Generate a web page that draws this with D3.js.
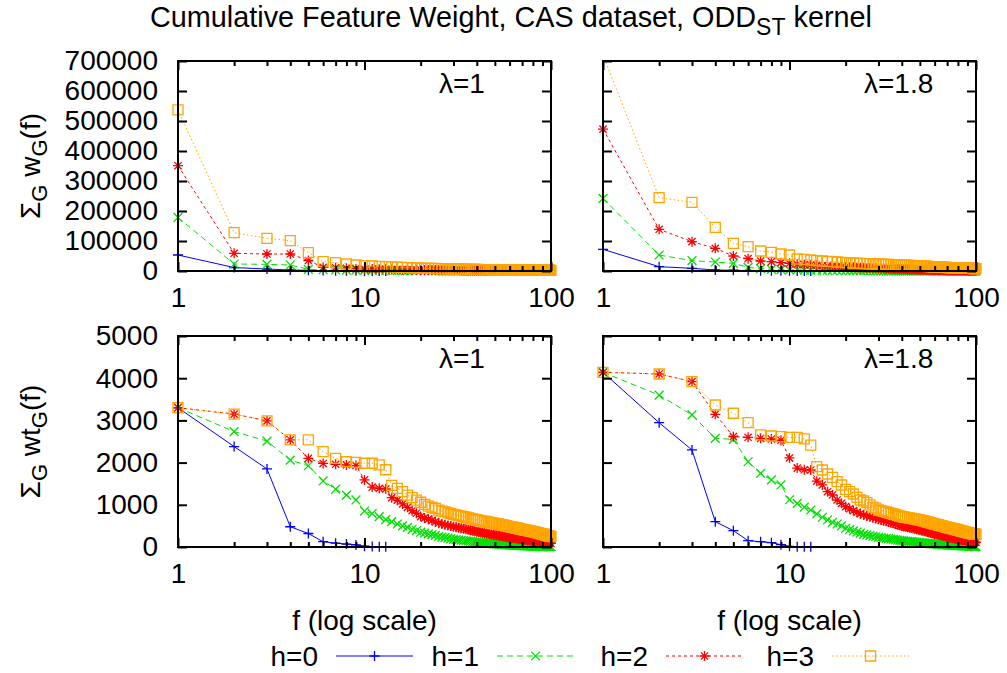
<!DOCTYPE html>
<html><head><meta charset="utf-8">
<script src="https://cdn.jsdelivr.net/npm/d3@7"></script>
<style>
body{margin:0;background:#fff}
svg text{font-family:"Liberation Sans",Arial,Helvetica,sans-serif;fill:#000}
</style>
</head><body><svg id="c" width="1007" height="673"></svg>
<script>
// ---------- DATA ----------
const seriesNames = ["h=0", "h=1", "h=2", "h=3"];
const lambdaLabels = ["λ=1", "λ=1.8"];
const xMajorTicks = [1, 10, 100];
const xMinorTicks = [2, 3, 4, 5, 6, 7, 8, 9, 20, 30, 40, 50, 60, 70, 80, 90];
const yTicksW = [0, 100000, 200000, 300000, 400000, 500000, 600000, 700000];
const yTicksWt = [0, 1000, 2000, 3000, 4000, 5000];

// Σ_G w_G(f), λ=1
const wL1H0 = [53300, 11500, 6700, 3300, 2200, 1500, 1100, 800, 600, 400, 300, 200, 150];
const wL1H1 = [178500, 23300, 22200, 20000, 5500, 4200, 3600, 3100, 2700, 2300, 2100, 1900, 1700, 1550, 1400, 1300, 1200, 1100, 1000, 930,
  870, 810, 760, 710, 660, 620, 590, 560, 530, 500, 480, 460, 440, 420, 400, 385, 370, 355, 340, 325,
  312, 300, 290, 280, 270, 260, 250, 240, 230, 220, 212, 205, 198, 191, 184, 178, 172, 166, 160, 154,
  149, 144, 139, 134, 129, 125, 121, 117, 113, 109, 105, 102, 99, 96, 93, 90, 87, 84, 81, 78,
  76, 74, 72, 70, 68, 66, 64, 62, 60, 58, 57, 56, 55, 54, 53, 52, 51, 50, 49, 48];
const wL1H2 = [351000, 59000, 56700, 56700, 35000, 12200, 11000, 8900, 7800, 7000, 6400, 5900, 5500, 5100, 4800, 4500, 4250, 4000, 3800, 3600,
  3420, 3250, 3100, 2960, 2830, 2710, 2600, 2500, 2400, 2310, 2230, 2150, 2080, 2010, 1950, 1890, 1830, 1780, 1730, 1680,
  1630, 1590, 1550, 1510, 1470, 1430, 1400, 1370, 1340, 1310, 1280, 1250, 1220, 1200, 1170, 1150, 1120, 1100, 1080, 1060,
  1040, 1020, 1000, 985, 970, 955, 940, 925, 910, 895, 880, 866, 852, 838, 825, 812, 800, 788, 776, 764,
  752, 741, 730, 719, 708, 698, 688, 678, 668, 658, 649, 640, 631, 622, 613, 605, 597, 589, 581, 573];
const wL1H3 = [537000, 127700, 109000, 101000, 61000, 31000, 27700, 23300, 20000, 17800, 16700, 15500, 14400, 13500, 12700, 12000, 11400, 10800, 10300, 9800,
  9400, 9000, 8650, 8300, 8000, 7700, 7450, 7200, 6950, 6700, 6500, 6300, 6100, 5950, 5800, 5650, 5500, 5360, 5230, 5100,
  4980, 4870, 4760, 4660, 4560, 4470, 4380, 4300, 4220, 4140, 4060, 3990, 3920, 3850, 3790, 3730, 3670, 3610, 3560, 3510,
  3460, 3410, 3360, 3320, 3280, 3240, 3200, 3160, 3120, 3080, 3050, 3020, 2990, 2960, 2930, 2900, 2870, 2840, 2810, 2780,
  2760, 2740, 2720, 2700, 2680, 2660, 2640, 2620, 2600, 2580, 2560, 2540, 2520, 2500, 2480, 2460, 2440, 2420, 2400, 2380];

// Σ_G w_G(f), λ=1.8
const wL18H0 = [72200, 14400, 8900, 3300, 2500, 1500, 1100, 800, 600, 450, 350, 250, 200];
const wL18H1 = [242000, 53300, 34400, 30000, 25600, 12200, 7800, 5600, 4600, 3900, 3400, 3000, 2700, 2450, 2250, 2050, 1900, 1750, 1620, 1500,
  1400, 1310, 1230, 1150, 1080, 1020, 960, 910, 860, 815, 775, 740, 705, 672, 640, 612, 585, 560, 537, 515,
  495, 476, 458, 441, 425, 410, 396, 382, 369, 357, 345, 334, 323, 313, 303, 294, 285, 276, 268, 260,
  252, 245, 238, 231, 225, 219, 213, 207, 201, 196, 191, 186, 181, 176, 172, 168, 164, 160, 156, 152,
  148, 145, 142, 139, 136, 133, 130, 127, 124, 121, 118, 116, 114, 112, 110, 108, 106, 104, 102, 100];
const wL18H2 = [473000, 139000, 97800, 75500, 50000, 41100, 33300, 31100, 27800, 25600, 22200, 21100, 20000, 18800, 17700, 16700, 15800, 15000, 14200, 13500,
  12900, 12300, 11700, 11200, 10700, 10250, 9800, 9400, 9000, 8650, 8300, 8000, 7700, 7420, 7150, 6900, 6660, 6430, 6210, 6000,
  5800, 5620, 5440, 5270, 5110, 4960, 4820, 4680, 4550, 4420, 4300, 4190, 4080, 3980, 3880, 3790, 3700, 3610, 3530, 3450,
  3380, 3310, 3240, 3170, 3110, 3050, 2990, 2930, 2880, 2830, 2780, 2730, 2680, 2640, 2600, 2560, 2520, 2480, 2440, 2400,
  2370, 2340, 2310, 2280, 2250, 2220, 2190, 2160, 2130, 2100, 2080, 2060, 2040, 2020, 2000, 1980, 1960, 1940, 1920, 1900];
const wL18H3 = [720000, 244400, 229000, 145600, 92200, 81100, 66700, 62200, 56700, 53300, 40000, 38900, 36700, 34400, 33300, 32200, 31100, 30000, 28900, 27800,
  27000, 26400, 25800, 25300, 24800, 24400, 24000, 23600, 23300, 23000, 22600, 22200, 21900, 21600, 21300, 21000, 20700, 20400, 20100, 19800,
  19500, 19200, 18900, 18600, 18300, 18000, 17700, 17400, 17100, 16800, 16500, 16200, 15900, 15600, 15300, 15000, 14700, 14450, 14200, 13950,
  13700, 13450, 13200, 12950, 12700, 12500, 12300, 12100, 11900, 11700, 11500, 11300, 11100, 10950, 10800, 10650, 10500, 10350, 10200, 10050,
  9950, 9850, 9750, 9650, 9550, 9450, 9350, 9250, 9150, 9050, 8950, 8850, 8750, 8650, 8550, 8450, 8350, 8250, 8150, 8050];

// Σ_G wt_G(f), λ=1
const wtL1H0 = [3300, 2380, 1850, 480, 320, 125, 90, 70, 50, 18, 10, 6, 4];
const wtL1H1 = [3300, 2735, 2510, 2060, 1925, 1565, 1370, 1230, 1115, 850, 790, 720, 650, 600, 545, 500, 465, 420, 390, 350,
  330, 310, 292, 275, 250, 236, 222, 208, 195, 182, 175, 168, 160, 154, 148, 142, 136, 130, 124, 118,
  113, 108, 104, 100, 95, 91, 87, 82, 77, 72, 69, 67, 64, 62, 59, 57, 54, 52, 50, 47,
  45, 44, 42, 41, 39, 38, 36, 35, 33, 32, 31, 29, 28, 27, 25, 24, 22, 21, 18, 16,
  15, 14, 14, 13, 12, 12, 11, 11, 10, 10, 9, 9, 9, 8, 8, 8, 8, 8, 8, 8];
const wtL1H2 = [3300, 3150, 2990, 2540, 2100, 1980, 1960, 1945, 1930, 1590, 1420, 1390, 1375, 1170, 1110, 1020, 940, 860, 800, 720,
  690, 660, 630, 600, 565, 545, 528, 512, 496, 482, 470, 458, 446, 434, 422, 410, 398, 386, 374, 363,
  354, 345, 336, 327, 318, 310, 302, 295, 290, 284, 278, 272, 266, 260, 254, 249, 244, 239, 234, 229,
  224, 219, 214, 210, 205, 200, 196, 192, 187, 182, 179, 176, 172, 169, 166, 163, 160, 157, 153, 150,
  147, 144, 141, 138, 135, 132, 128, 125, 121, 118, 115, 112, 109, 106, 103, 100, 97, 94, 90, 87];
const wtL1H3 = [3300, 3150, 2990, 2540, 2540, 2260, 2100, 2020, 2005, 1985, 1985, 1945, 1830, 1460, 1390, 1310, 1230, 1170, 1110, 1060,
  1010, 970, 940, 915, 875, 850, 830, 808, 790, 772, 758, 745, 730, 718, 705, 692, 680, 668, 654, 640,
  632, 624, 615, 607, 598, 590, 582, 575, 568, 561, 553, 545, 537, 530, 522, 515, 507, 499, 490, 482,
  476, 470, 463, 457, 450, 444, 438, 432, 425, 419, 413, 408, 402, 397, 391, 386, 380, 374, 369, 363,
  357, 352, 346, 341, 335, 330, 324, 319, 313, 308, 302, 296, 289, 283, 276, 270, 264, 258, 251, 245];

// Σ_G wt_G(f), λ=1.8
const wtL18H0 = [4140, 2945, 2300, 600, 387, 150, 126, 103, 55, 16, 8, 5, 4];
const wtL18H1 = [4140, 3600, 3130, 2575, 2550, 2020, 1745, 1590, 1470, 1120, 1035, 945, 877, 785, 705, 640, 585, 545, 498, 442,
  410, 380, 355, 328, 300, 286, 272, 258, 243, 229, 220, 212, 204, 196, 188, 181, 173, 165, 158, 150,
  145, 140, 135, 130, 126, 121, 117, 112, 108, 103, 100, 96, 93, 90, 86, 83, 80, 77, 74, 71,
  69, 66, 64, 61, 59, 57, 55, 52, 50, 47, 46, 44, 43, 41, 40, 38, 37, 35, 34, 32,
  31, 30, 30, 29, 28, 27, 26, 25, 24, 24, 22, 21, 19, 18, 16, 14, 13, 11, 10, 8];
const wtL18H2 = [4140, 4100, 3920, 3145, 2615, 2600, 2575, 2560, 2530, 2110, 1870, 1830, 1825, 1560, 1470, 1310, 1232, 1114, 1035, 956,
  905, 861, 825, 790, 758, 735, 715, 693, 674, 656, 640, 624, 608, 592, 576, 561, 545, 529, 513, 498,
  488, 478, 469, 459, 450, 441, 431, 422, 412, 403, 393, 384, 374, 365, 355, 346, 336, 327, 317, 308,
  302, 296, 289, 283, 277, 271, 264, 258, 251, 245, 239, 233, 226, 220, 214, 207, 201, 195, 188, 182,
  179, 176, 173, 169, 166, 163, 160, 157, 153, 150, 146, 142, 138, 134, 130, 126, 122, 118, 114, 110];
const wtL18H3 = [4140, 4100, 3920, 3365, 3170, 2945, 2655, 2630, 2615, 2600, 2600, 2560, 2415, 1905, 1825, 1730, 1650, 1548, 1469, 1367,
  1311, 1256, 1177, 1114, 1090, 1051, 1000, 944, 920, 877, 862, 846, 830, 814, 798, 782, 766, 750, 735, 719,
  711, 703, 695, 687, 680, 672, 664, 656, 648, 640, 631, 622, 612, 603, 593, 584, 574, 564, 555, 545,
  537, 529, 521, 513, 505, 498, 490, 482, 474, 466, 460, 453, 447, 441, 434, 428, 422, 416, 409, 403,
  397, 390, 384, 378, 372, 365, 359, 353, 346, 340, 336, 332, 328, 324, 320, 316, 312, 308, 304, 300];

// ---------- STYLE / LAYOUT ----------
const styles = [
  {color: "#0000ff", dash: null, marker: "plus"},
  {color: "#00e000", dash: "6,4", marker: "cross"},
  {color: "#ff0000", dash: "3,3", marker: "star"},
  {color: "#ffa500", dash: "1.5,2.5", marker: "square"}
];
const FONT = 28;
const panels = [
  {x0: 178, x1: 551, y0: 61, y1: 271, yTicks: yTicksW, labels: true, lam: 0, data: [wL1H0, wL1H1, wL1H2, wL1H3]},
  {x0: 603, x1: 976, y0: 61, y1: 271, yTicks: yTicksW, labels: false, lam: 1, data: [wL18H0, wL18H1, wL18H2, wL18H3]},
  {x0: 178, x1: 551, y0: 336, y1: 547, yTicks: yTicksWt, labels: true, lam: 0, data: [wtL1H0, wtL1H1, wtL1H2, wtL1H3]},
  {x0: 603, x1: 976, y0: 336, y1: 547, yTicks: yTicksWt, labels: false, lam: 1, data: [wtL18H0, wtL18H1, wtL18H2, wtL18H3]}
];

const svg = d3.select("#c");
svg.append("rect").attr("width", 1007).attr("height", 673).attr("fill", "#fff");

function markerPath(type) {
  const r = 5;
  if (type === "plus") return `M${-r},0H${r}M0,${-r}V${r}`;
  if (type === "cross") { const c = 4.4; return `M${-c},${-c}L${c},${c}M${-c},${c}L${c},${-c}`; }
  if (type === "star") { const c = 3.6; return `M${-r},0H${r}M0,${-r}V${r}M${-c},${-c}L${c},${c}M${-c},${c}L${c},${-c}`; }
  return `M${-r},${-r}H${r}V${r}H${-r}Z`;
}

function styleAxis(g) {
  g.select(".domain").remove();
  g.selectAll(".tick line").attr("stroke", "#000").attr("stroke-width", 2);
  g.selectAll(".tick text").attr("font-size", FONT).attr("font-family", '"Liberation Sans",Arial,sans-serif').attr("fill", "#000");
}

panels.forEach((p, pi) => {
  const x = d3.scaleLog().domain([1, 100]).range([p.x0, p.x1]);
  const ymax = p.yTicks[p.yTicks.length - 1];
  const y = d3.scaleLinear().domain([0, ymax]).range([p.y1, p.y0]);
  const g = svg.append("g");

  const clipId = "clip" + pi;
  svg.append("clipPath").attr("id", clipId).append("rect")
    .attr("x", p.x0).attr("y", p.y0).attr("width", p.x1 - p.x0).attr("height", p.y1 - p.y0);

  p.data.forEach((vals, si) => {
    const st = styles[si];
    const pts = vals.map((v, i) => ({f: i + 1, v}));
    const line = d3.line().x(d => x(d.f)).y(d => y(d.v));
    g.append("path").datum(pts).attr("d", line)
      .attr("fill", "none").attr("stroke", st.color).attr("stroke-width", 1)
      .attr("stroke-dasharray", st.dash).attr("clip-path", `url(#${clipId})`);
    g.append("g").selectAll("path").data(pts.filter(d => d.v <= ymax)).join("path")
      .attr("transform", d => `translate(${x(d.f)},${y(d.v)})`)
      .attr("d", markerPath(st.marker))
      .attr("fill", "none").attr("stroke", st.color).attr("stroke-width", 1.3);
  });

  const bottomMajor = d3.axisBottom(x).tickValues(xMajorTicks).tickSize(-9).tickPadding(16).tickFormat(d3.format("d"));
  g.append("g").attr("transform", `translate(0,${p.y1})`).call(bottomMajor).call(styleAxis);
  g.append("g").attr("transform", `translate(0,${p.y1})`)
    .call(d3.axisBottom(x).tickValues(xMinorTicks).tickSize(-5).tickFormat("")).call(styleAxis);
  g.append("g").attr("transform", `translate(0,${p.y0})`)
    .call(d3.axisTop(x).tickValues(xMajorTicks).tickSize(-9).tickFormat("")).call(styleAxis);
  g.append("g").attr("transform", `translate(0,${p.y0})`)
    .call(d3.axisTop(x).tickValues(xMinorTicks).tickSize(-5).tickFormat("")).call(styleAxis);
  const left = d3.axisLeft(y).tickValues(p.yTicks).tickSize(-9).tickPadding(20)
    .tickFormat(p.labels ? d3.format("d") : "");
  g.append("g").attr("transform", `translate(${p.x0},0)`).call(left).call(styleAxis);
  g.append("g").attr("transform", `translate(${p.x1},0)`)
    .call(d3.axisRight(y).tickValues(p.yTicks).tickSize(-9).tickFormat("")).call(styleAxis);

  g.append("rect").attr("x", p.x0).attr("y", p.y0).attr("width", p.x1 - p.x0).attr("height", p.y1 - p.y0)
    .attr("fill", "none").attr("stroke", "#000").attr("stroke-width", 2);

  g.append("text").attr("x", p.x0 + 261).attr("y", p.y0 + 32).attr("font-size", FONT).text(lambdaLabels[p.lam]);

  if (pi >= 2) {
    svg.append("text").attr("x", (p.x0 + p.x1) / 2).attr("y", 630).attr("text-anchor", "middle")
      .attr("font-size", FONT).text("f (log scale)");
  }
});

function yTitle(cy, main) {
  const t = svg.append("text").attr("transform", `translate(40,${cy}) rotate(-90)`)
    .attr("text-anchor", "middle").attr("font-size", FONT);
  t.append("tspan").text("Σ");
  t.append("tspan").attr("font-size", 22).attr("dy", 7).text("G");
  t.append("tspan").attr("dy", -7).text(" " + main);
  t.append("tspan").attr("font-size", 22).attr("dy", 7).text("G");
  t.append("tspan").attr("dy", -7).text("(f)");
}
yTitle(166, "w");
yTitle(441.5, "wt");

const title = svg.append("text").attr("x", 511).attr("y", 27).attr("text-anchor", "middle").attr("font-size", 28.8);
title.append("tspan").text("Cumulative Feature Weight, CAS dataset, ODD");
title.append("tspan").attr("font-size", 23).attr("dy", 8).text("ST");
title.append("tspan").attr("dy", -8).text(" kernel");

const legendTextRight = [318, 479, 648, 814];
const legendY = 656;
seriesNames.forEach((name, i) => {
  const st = styles[i];
  const xr = legendTextRight[i];
  svg.append("text").attr("x", xr).attr("y", legendY + 10).attr("text-anchor", "end").attr("font-size", FONT).text(name);
  const lx0 = xr + 18, lx1 = xr + 95;
  svg.append("line").attr("x1", lx0).attr("x2", lx1).attr("y1", legendY).attr("y2", legendY)
    .attr("stroke", st.color).attr("stroke-width", 1).attr("stroke-dasharray", st.dash);
  svg.append("path").attr("transform", `translate(${(lx0 + lx1) / 2},${legendY})`).attr("d", markerPath(st.marker))
    .attr("fill", "none").attr("stroke", st.color).attr("stroke-width", 1.3);
});
</script>
</body></html>
